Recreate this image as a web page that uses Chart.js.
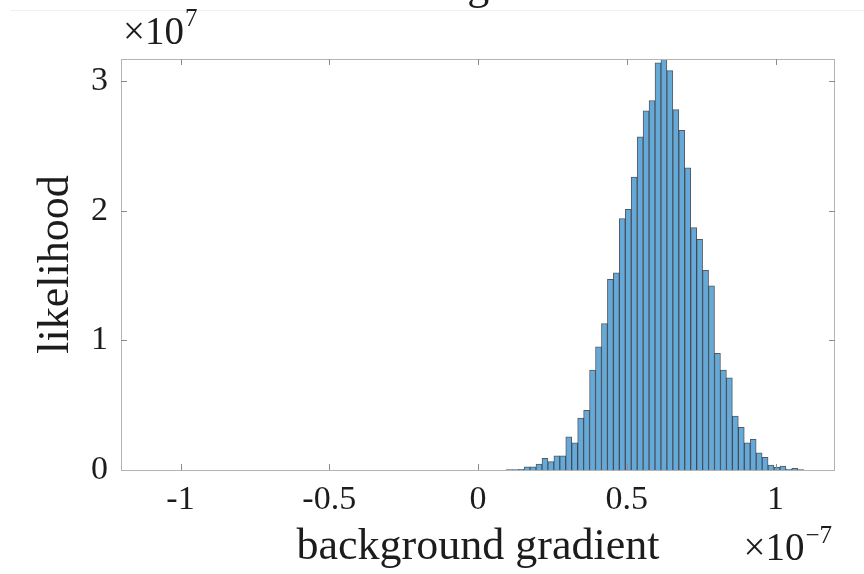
<!DOCTYPE html>
<html>
<head>
<meta charset="utf-8">
<script src="https://cdn.jsdelivr.net/npm/chart.js@4.4.1/dist/chart.umd.min.js"></script>
<style>
  html, body { margin: 0; padding: 0; background: #fff; }
  #wrap { width: 864px; height: 574px; position: relative; }
</style>
</head>
<body>
<div id="wrap"><canvas id="histChart"></canvas></div>
<script>
// bin centres (units of 1e-7) and bin heights (units of 1e7)
const binCenters = [
    0.105, 0.125, 0.145, 0.165, 0.185, 0.205, 0.225, 0.245, 0.265, 0.285,
    0.305, 0.325, 0.345, 0.365, 0.385, 0.405, 0.425, 0.445, 0.465, 0.485,
    0.505, 0.525, 0.545, 0.565, 0.585, 0.605, 0.625, 0.645, 0.665, 0.685,
    0.705, 0.725, 0.745, 0.765, 0.785, 0.805, 0.825, 0.845, 0.865, 0.885,
    0.905, 0.925, 0.945, 0.965, 0.985, 1.005, 1.025, 1.045, 1.065, 1.085
];
const likelihood = [
    0.003, 0.004, 0.006, 0.025, 0.025, 0.046, 0.09, 0.064, 0.11, 0.11,
    0.256, 0.21, 0.40, 0.46, 0.77, 0.95, 1.13, 1.47, 1.52, 1.94,
    2.01, 2.26, 2.57, 2.77, 2.85, 3.14, 3.17, 3.08, 2.78, 2.62,
    2.33, 1.87, 1.78, 1.54, 1.42, 0.90, 0.77, 0.71, 0.415, 0.33,
    0.21, 0.236, 0.133, 0.098, 0.038, 0.02, 0.03, 0.008, 0.012, 0.004
];
const xTicks = [-1, -0.5, 0, 0.5, 1];
const yTicks = [0, 1, 2, 3];
const xRange = [-1.2, 1.2];
const yRange = [0, 3.17];

const FONT = "'Liberation Serif', 'Times New Roman', serif";
const TEXT = '#1c1c1c';

// box, inward tick marks, exponent labels and the clipped title
const matlabAxes = {
    id: 'matlabAxes',
    afterDraw(chart) {
        const { ctx, chartArea: a, scales } = chart;
        ctx.save();

        // faint figure edge near the top
        ctx.strokeStyle = '#f0f0f0';
        ctx.lineWidth = 1;
        ctx.beginPath();
        ctx.moveTo(10, 10.5);
        ctx.lineTo(chart.width, 10.5);
        ctx.stroke();

        ctx.strokeStyle = '#b4b4b4';
        ctx.strokeRect(Math.round(a.left) + 0.5, Math.round(a.top) + 0.5,
            Math.round(a.right - a.left) - 1, Math.round(a.bottom - a.top));

        ctx.strokeStyle = '#8c8c8c';
        const tl = 6;
        ctx.beginPath();
        xTicks.forEach(v => {
            const px = Math.round(scales.x.getPixelForValue(v)) + 0.5;
            ctx.moveTo(px, a.bottom); ctx.lineTo(px, a.bottom - tl);
            ctx.moveTo(px, a.top); ctx.lineTo(px, a.top + tl);
        });
        yTicks.forEach(v => {
            if (v === 0) return;
            const py = Math.round(scales.y.getPixelForValue(v)) + 0.5;
            ctx.moveTo(a.left, py); ctx.lineTo(a.left + tl, py);
            ctx.moveTo(a.right, py); ctx.lineTo(a.right - tl, py);
        });
        ctx.stroke();

        ctx.fillStyle = TEXT;
        ctx.textBaseline = 'alphabetic';

        // x10^7 above the y axis
        ctx.textAlign = 'left';
        ctx.font = '39px ' + FONT;
        ctx.fillText('\u00d710', a.left + 2, a.top - 15);
        let w = ctx.measureText('\u00d710').width;
        ctx.font = '25px ' + FONT;
        ctx.fillText('7', a.left + 3 + w, a.top - 33);

        // x10^-7 under the right end of the x axis
        ctx.font = '39px ' + FONT;
        const base = '\u00d710';
        w = ctx.measureText(base).width;
        ctx.font = '25px ' + FONT;
        const sw = ctx.measureText('\u22127').width;
        const x0 = a.right - 4 - w - sw;
        ctx.font = '39px ' + FONT;
        ctx.fillText(base, x0, chart.height - 14);
        ctx.font = '25px ' + FONT;
        ctx.fillText('\u22127', x0 + w + 1, chart.height - 31);

        // title, mostly above the visible page
        ctx.textAlign = 'center';
        ctx.font = '44px ' + FONT;
        ctx.fillText('background', (a.left + a.right) / 2 + 10, -1);

        ctx.restore();
    }
};

const ctx = document.getElementById('histChart');

new Chart(ctx, {
    type: 'bar',
    data: {
        datasets: [{
            label: 'likelihood',
            data: binCenters.map((c, i) => ({ x: c, y: likelihood[i] })),
            backgroundColor: '#64a9d8',
            borderColor: 'rgba(25, 35, 45, 0.75)',
            borderWidth: 1,
            borderSkipped: 'bottom',
            barPercentage: 1,
            categoryPercentage: 1
        }]
    },
    options: {
        responsive: true,
        maintainAspectRatio: false,
        animation: false,
        layout: { padding: { left: 0, right: 29, top: 59, bottom: 0 } },
        plugins: {
            legend: { display: false },
            tooltip: { enabled: false }
        },
        scales: {
            x: {
                type: 'linear',
                min: xRange[0],
                max: xRange[1],
                offset: false,
                grid: { display: false, drawTicks: false },
                border: { display: false },
                afterBuildTicks: (s) => { s.ticks = xTicks.map(v => ({ value: v })); },
                afterFit: (s) => { s.height = 104; },
                ticks: {
                    padding: 10,
                    maxRotation: 0,
                    color: TEXT,
                    font: { family: FONT, size: 34 },
                    callback: (v) => String(v)
                },
                title: {
                    display: true,
                    text: 'background gradient',
                    color: TEXT,
                    font: { family: FONT, size: 44 },
                    padding: { top: 0, bottom: 0 }
                }
            },
            y: {
                min: yRange[0],
                max: yRange[1],
                grid: { display: false, drawTicks: false },
                border: { display: false },
                afterBuildTicks: (s) => { s.ticks = yTicks.map(v => ({ value: v })); },
                afterFit: (s) => { s.width = 121; },
                ticks: {
                    padding: 13,
                    color: TEXT,
                    font: { family: FONT, size: 34 },
                    callback: (v) => String(v)
                },
                title: {
                    display: true,
                    text: 'likelihood',
                    color: TEXT,
                    font: { family: FONT, size: 44 },
                    padding: { top: 30, bottom: 0 }
                }
            }
        }
    },
    plugins: [matlabAxes]
});
</script>
</body>
</html>
